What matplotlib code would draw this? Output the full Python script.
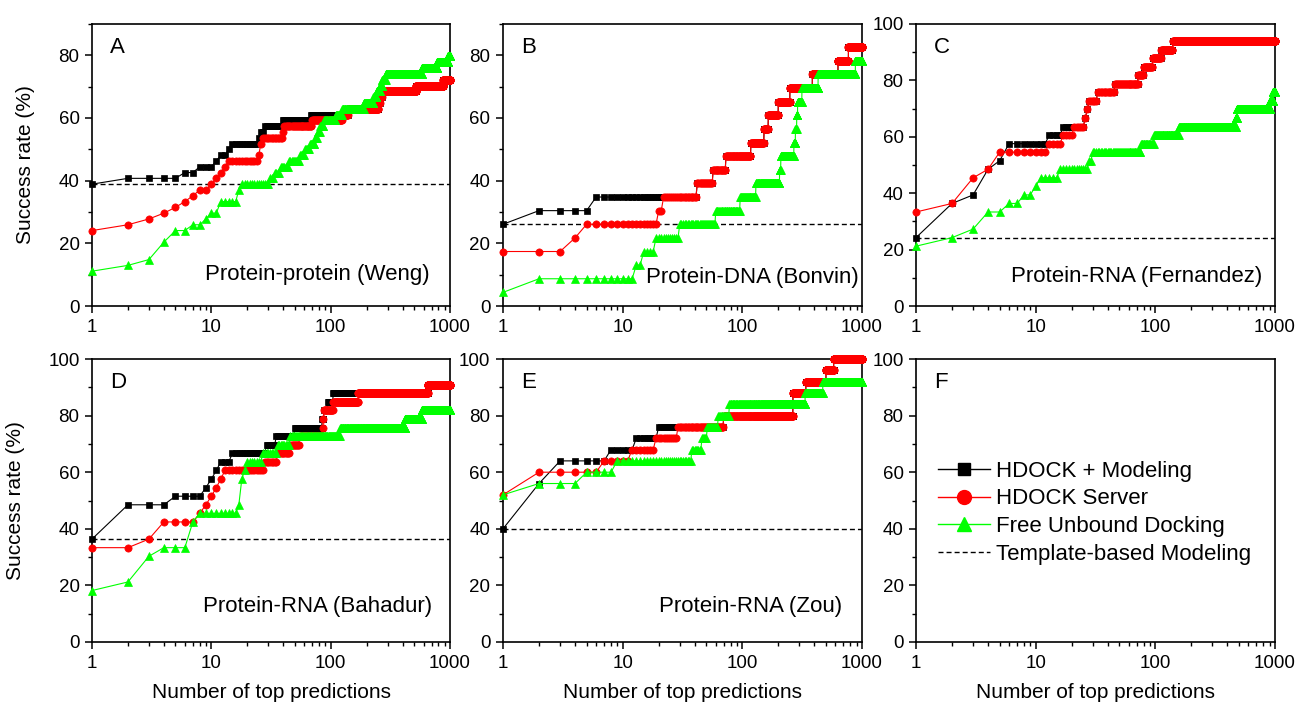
import numpy as np
import matplotlib
matplotlib.use("Agg")
import matplotlib.pyplot as plt
from matplotlib.lines import Line2D
from matplotlib.ticker import LogLocator, MultipleLocator, NullFormatter

plt.rcParams['font.family'] = ['Liberation Sans', 'DejaVu Sans']

# ---------------- data (breakpoints: top-N rank -> number of successful cases) -------------
panel_letters = ["A", "B", "C", "D", "E", "F"]
panel_titles = ["Protein-protein (Weng)", "Protein-DNA (Bonvin)", "Protein-RNA (Fernandez)",
                "Protein-RNA (Bahadur)", "Protein-RNA (Zou)", ""]
series_names = ["HDOCK + Modeling", "HDOCK Server", "Free Unbound Docking", "Template-based Modeling"]
x_tick_values = [1, 10, 100, 1000]
x_tick_labels = ["1", "10", "100", "1000"]
n_max = 1000

# Panel A: 54 complexes
A_total = 54
A_template = 21
A_black_n = [1, 2, 6, 8, 11, 12, 14, 15, 25, 26, 28, 40, 69, 140, 250, 258, 268, 520, 880]
A_black_k = [21, 22, 23, 24, 25, 26, 27, 28, 29, 30, 31, 32, 33, 34, 35, 36, 37, 38, 39]
A_red_n = [1, 2, 3, 4, 5, 6, 7, 8, 10, 11, 12, 13, 14, 25, 26, 27, 40, 41, 70, 125, 140, 250, 258, 268, 520, 880]
A_red_k = [13, 14, 15, 16, 17, 18, 19, 20, 21, 22, 23, 24, 25, 26, 28, 29, 30, 31, 32, 33, 34, 35, 36, 37, 38, 39]
A_green_n = [1, 2, 3, 4, 5, 7, 9, 10, 12, 17, 18, 31, 34, 38, 45, 55, 61, 67, 74, 78, 82, 88, 110, 125,
             190, 228, 243, 259, 270, 290, 580, 780, 960]
A_green_k = [6, 7, 8, 11, 13, 14, 15, 16, 18, 20, 21, 22, 23, 24, 25, 26, 27, 28, 29, 30, 31, 32, 33, 34,
             35, 36, 37, 38, 39, 40, 41, 42, 43]

# Panel B: 23 complexes
B_total = 23
B_template = 6
B_black_n = [1, 2, 6, 42, 57, 73, 118, 152, 165, 200, 250, 385, 630, 770]
B_black_k = [6, 7, 8, 9, 10, 11, 12, 13, 14, 15, 16, 17, 18, 19]
B_red_n = [1, 4, 5, 20, 22, 42, 57, 73, 118, 152, 165, 200, 250, 385, 630, 770]
B_red_k = [4, 5, 6, 7, 8, 9, 10, 11, 12, 13, 14, 15, 16, 17, 18, 19]
B_green_n = [1, 2, 13, 15, 19, 30, 60, 96, 130, 205, 210, 270, 278, 285, 290, 315, 430, 880]
B_green_k = [1, 2, 3, 4, 5, 6, 7, 8, 9, 10, 11, 12, 13, 14, 15, 16, 17, 18]

# Panel C: 33 complexes
C_total = 33
C_template = 8
C_black_n = [1, 2, 3, 4, 5, 6, 13, 17, 26, 27, 28, 33, 46, 72, 80, 95, 112, 140]
C_black_k = [8, 12, 13, 16, 17, 19, 20, 21, 22, 23, 24, 25, 26, 27, 28, 29, 30, 31]
C_red_n = [1, 2, 3, 4, 5, 13, 17, 21, 26, 27, 28, 33, 46, 72, 80, 95, 112, 140]
C_red_k = [11, 12, 15, 16, 18, 19, 20, 21, 22, 23, 24, 25, 26, 27, 28, 29, 30, 31]
C_green_n = [1, 2, 3, 4, 6, 8, 10, 11, 16, 28, 30, 76, 98, 158, 470, 480, 910, 960]
C_green_k = [7, 8, 9, 11, 12, 13, 14, 15, 16, 17, 18, 19, 20, 21, 22, 23, 24, 25]

# Panel D: 33 complexes
D_total = 33
D_template = 12
D_black_n = [1, 2, 5, 9, 10, 11, 12, 15, 29, 35, 50, 85, 88, 95, 105, 650]
D_black_k = [12, 16, 17, 18, 19, 20, 21, 22, 23, 24, 25, 26, 27, 28, 29, 30]
D_red_n = [1, 3, 4, 8, 9, 10, 11, 12, 13, 28, 36, 46, 55, 86, 87, 88, 105, 170, 650]
D_red_k = [11, 12, 14, 15, 16, 17, 18, 19, 20, 21, 22, 23, 24, 25, 26, 27, 28, 29, 30]
D_green_n = [1, 2, 3, 4, 7, 8, 17, 18, 19, 20, 27, 36, 46, 120, 420, 580]
D_green_k = [6, 7, 10, 11, 14, 15, 16, 19, 20, 21, 22, 23, 24, 25, 26, 27]

# Panel E: 25 complexes
E_total = 25
E_template = 10
E_black_n = [1, 2, 3, 8, 13, 20, 70, 265, 340, 500, 580]
E_black_k = [10, 14, 16, 17, 18, 19, 20, 22, 23, 24, 25]
E_red_n = [1, 2, 7, 12, 19, 29, 70, 265, 340, 500, 580]
E_red_k = [13, 15, 16, 17, 18, 19, 20, 22, 23, 24, 25]
E_green_n = [1, 2, 5, 9, 38, 46, 51, 63, 78, 335, 470]
E_green_k = [13, 14, 15, 16, 17, 18, 19, 20, 21, 22, 23]

panels = [
    (A_total, A_template, (A_black_n, A_black_k), (A_red_n, A_red_k), (A_green_n, A_green_k), 90),
    (B_total, B_template, (B_black_n, B_black_k), (B_red_n, B_red_k), (B_green_n, B_green_k), 90),
    (C_total, C_template, (C_black_n, C_black_k), (C_red_n, C_red_k), (C_green_n, C_green_k), 100),
    (D_total, D_template, (D_black_n, D_black_k), (D_red_n, D_red_k), (D_green_n, D_green_k), 100),
    (E_total, E_template, (E_black_n, E_black_k), (E_red_n, E_red_k), (E_green_n, E_green_k), 100),
]


def expand(bp, total):
    """Cumulative success rate at every rank 1..n_max from the breakpoints."""
    bn, bk = np.asarray(bp[0]), np.asarray(bp[1])
    n = np.arange(1, n_max + 1)
    idx = np.searchsorted(bn, n, side="right") - 1
    return n, 100.0 * bk[idx] / total


# ---------------- styles ----------------
styles = [
    dict(color="#000000", marker="s", ms=4.5, lw=0.8, zorder=3),
    dict(color="#FF0000", marker="o", ms=5.2, lw=0.8, zorder=4),
    dict(color="#00FF00", marker="^", ms=6.2, lw=0.8, zorder=5),
]
dash = (0, (3.6, 2.2))

fig = plt.figure(figsize=(13.03, 7.07), dpi=100)
W, H = 1303, 707
lefts = [92, 503, 916]
widths = [358, 359, 359]
tops = [24, 359]
bottoms = [306, 642]

label_pos = {  # (x, y) for the dataset text in axes fraction (right aligned)
    0: (0.944, 0.112), 1: (0.99, 0.10), 2: (0.964, 0.103), 3: (0.95, 0.127), 4: (0.944, 0.127),
}

axes = []
for i in range(6):
    r, c = divmod(i, 3)
    ax = fig.add_axes([lefts[c] / W, 1 - bottoms[r] / H, widths[c] / W, (bottoms[r] - tops[r]) / H])
    axes.append(ax)
    ax.set_xscale("log")
    ax.set_xlim(1, 1000)
    ymax = panels[i][5] if i < 5 else 100
    ax.set_ylim(0, ymax)
    ax.set_xticks(x_tick_values)
    ax.set_xticklabels(x_tick_labels)
    ax.xaxis.set_minor_locator(LogLocator(base=10, subs=np.arange(2, 10)))
    ax.xaxis.set_minor_formatter(NullFormatter())
    ax.yaxis.set_major_locator(MultipleLocator(20))
    ax.yaxis.set_minor_locator(MultipleLocator(10))
    ax.tick_params(which="major", direction="out", length=5, width=1.1, labelsize=13.5, pad=4)
    ax.tick_params(which="minor", direction="out", length=3, width=1.0)
    for s in ax.spines.values():
        s.set_linewidth(1.2)
    ax.text(0.05, 0.918, panel_letters[i], transform=ax.transAxes, fontsize=16, ha="left", va="center")

    if i < 5:
        total, templ, bk, rd, gr, _ = panels[i]
        for bp, st in zip([bk, rd, gr], styles):
            n, v = expand(bp, total)
            ax.plot(n, v, clip_on=False, markeredgewidth=0.5, markeredgecolor=st["color"], **st)
        ax.axhline(100.0 * templ / total, color="k", lw=1.0, ls=dash, zorder=2)
        tx, ty = label_pos[i]
        ax.text(tx, ty, panel_titles[i], transform=ax.transAxes, fontsize=16, ha="right", va="center")

    if r == 1:
        ax.set_xlabel("Number of top predictions", fontsize=15, labelpad=8)
    if c == 0:
        ax.set_ylabel("Success rate (%)", fontsize=15, labelpad=17)

# legend in panel F
handles = [
    Line2D([], [], color="#000000", marker="s", ms=9, lw=1.0),
    Line2D([], [], color="#FF0000", marker="o", ms=10, lw=1.0),
    Line2D([], [], color="#00FF00", marker="^", ms=10.5, lw=1.0),
    Line2D([], [], color="k", lw=1.0, ls=dash),
]
axes[5].legend(handles, series_names, loc="center left", bbox_to_anchor=(0.06, 0.457),
               frameon=False, fontsize=16, borderpad=0, borderaxespad=0, handlelength=2.35,
               handletextpad=0.3, labelspacing=0.3)

fig.savefig("out.png", dpi=100)
